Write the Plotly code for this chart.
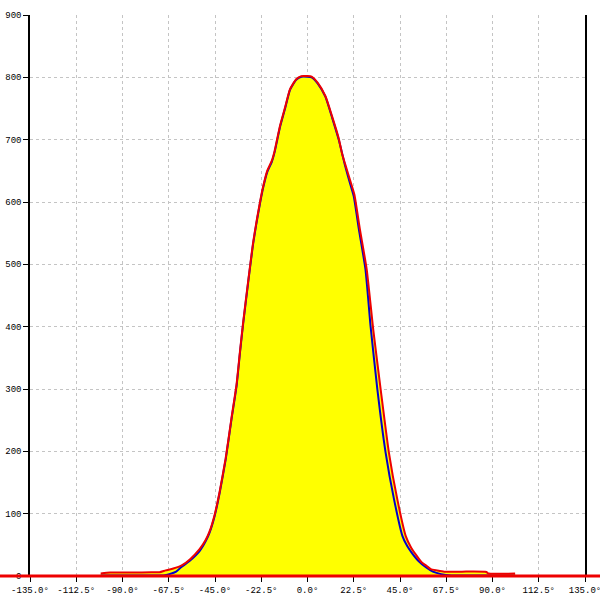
import plotly.graph_objects as go

# Tick definitions
x_ticks = [-135.0, -112.5, -90.0, -67.5, -45.0, -22.5, 0.0, 22.5, 45.0, 67.5, 90.0, 112.5, 135.0]
x_tick_labels = ["-135.0°", "-112.5°", "-90.0°", "-67.5°", "-45.0°", "-22.5°", "0.0°",
                 "22.5°", "45.0°", "67.5°", "90.0°", "112.5°", "135.0°"]
y_ticks = [0, 100, 200, 300, 400, 500, 600, 700, 800, 900]

# Red series (outer curve, also the yellow-filled area)
red_x = [-100.6, -96.0, -85.0, -76.0, -72.0, -69.0, -65.3, -61.2, -57.1, -52.5, -49.5, -47.6,
         -45.2, -42.7, -39.8, -37.0, -34.5, -32.8, -31.3, -28.9, -26.4, -23.1, -21.5, -19.6,
         -17.4, -16.0, -14.7, -13.4, -10.9, -8.5, -5.5, -3.0, 0.0, 2.0, 5.0, 8.7, 12.0, 15.2, 16.8,
         18.4, 20.8, 22.8, 25.5, 28.8, 32.0, 35.6, 39.6, 43.7, 47.8, 50.5, 53.0, 55.5, 58.0,
         60.0, 63.0, 66.5, 75.0, 87.0, 88.0, 101.0]
red_y = [4, 5.5, 5.5, 6, 6, 9, 12, 17, 27, 43, 58, 72,
         98, 136, 189, 253, 308, 362, 407, 472, 536, 600, 626, 650,
         666, 682, 702, 722, 752, 781, 797, 802, 802, 801, 791, 770, 737, 702, 678,
         660, 634, 612, 556, 492, 395, 299, 198, 123, 64, 45, 33, 22, 16,
         11, 9, 7, 7, 6.5, 4, 4]

# Blue series (inner curve)
blue_x = [-100.6, -90.0, -80.0, -70.0, -67.2, -63.9, -61.5, -57.4, -52.5, -49.5, -47.6, -45.2,
          -42.7, -39.8, -37.0, -34.5, -32.8, -31.3, -28.9, -26.4, -23.1, -21.5, -19.6, -17.4,
          -16.0, -14.7, -13.4, -10.9, -8.5, -5.5, -3.0, 0.0, 2.0, 5.0, 8.7, 12.0, 15.2, 18.4, 20.5,
          22.5, 25.0, 28.2, 30.7, 34.0, 38.0, 42.1, 46.2, 48.5, 51.0, 54.0, 57.6, 61.0, 65.0,
          70.0, 80.0, 90.0, 101.0]
blue_y = [1, 1, 1, 1, 3, 7, 14, 24, 40, 56, 70, 96,
          134, 187, 251, 305, 360, 405, 470, 534, 598, 624, 648,
          664, 680, 700, 720, 750, 780, 796, 801, 801, 800, 790, 769, 735, 700, 657, 632,
          609, 556, 492, 400, 299, 198, 123, 64, 48, 36, 24, 14, 7, 3,
          1, 1, 1, 1]

RED = "#ee0000"
BLUE = "#0000cc"
YELLOW = "#ffff00"
GRID = "#c4c4c4"
FONT = dict(family="Liberation Mono, DejaVu Sans Mono, monospace", size=9, color="#000000")

fig = go.Figure()
fig.add_trace(go.Scatter(x=red_x, y=red_y, mode="lines", fill="tozeroy",
                         fillcolor=YELLOW, line=dict(width=0, color=YELLOW, shape="spline", smoothing=0.5),
                         hoverinfo="skip", showlegend=False))
fig.add_trace(go.Scatter(x=blue_x, y=blue_y, mode="lines",
                         line=dict(color=BLUE, width=2, shape="spline", smoothing=0.5),
                         showlegend=False))
fig.add_trace(go.Scatter(x=red_x, y=red_y, mode="lines",
                         line=dict(color=RED, width=2, shape="spline", smoothing=0.5),
                         showlegend=False))

# red baseline at y = 0 spanning the whole width
fig.add_shape(type="line", xref="paper", yref="paper", x0=-0.2, x1=1.2, y0=0, y1=0,
              line=dict(color=RED, width=3), layer="above")

fig.update_layout(
    width=600, height=600,
    margin=dict(l=30, r=15, t=15, b=24, autoexpand=False),
    paper_bgcolor="#ffffff", plot_bgcolor="#ffffff",
    font=FONT,
    showlegend=False,
    xaxis=dict(range=[-135, 135], tickvals=x_ticks, ticktext=x_tick_labels,
               automargin=False, ticklabeloverflow="allow",
               showgrid=True, gridcolor=GRID, griddash="3px,3px", gridwidth=1,
               zeroline=False, showline=True, linecolor="#000000", linewidth=1,
               ticks="outside", ticklen=5, tickcolor="#000000", tickfont=FONT),
    yaxis=dict(range=[0, 900], tickvals=y_ticks, automargin=False,
               ticklabeloverflow="allow",
               showgrid=True, gridcolor=GRID, griddash="3px,3px", gridwidth=1,
               zeroline=False, showline=True, linecolor="#000000", linewidth=1.5,
               mirror=True, ticks="outside", ticklen=5, tickcolor="#000000",
               tickfont=FONT),
)

fig.write_html("out.html", config={"displayModeBar": False},
               post_script="document.body.style.margin='0';document.body.style.overflow='hidden';")
